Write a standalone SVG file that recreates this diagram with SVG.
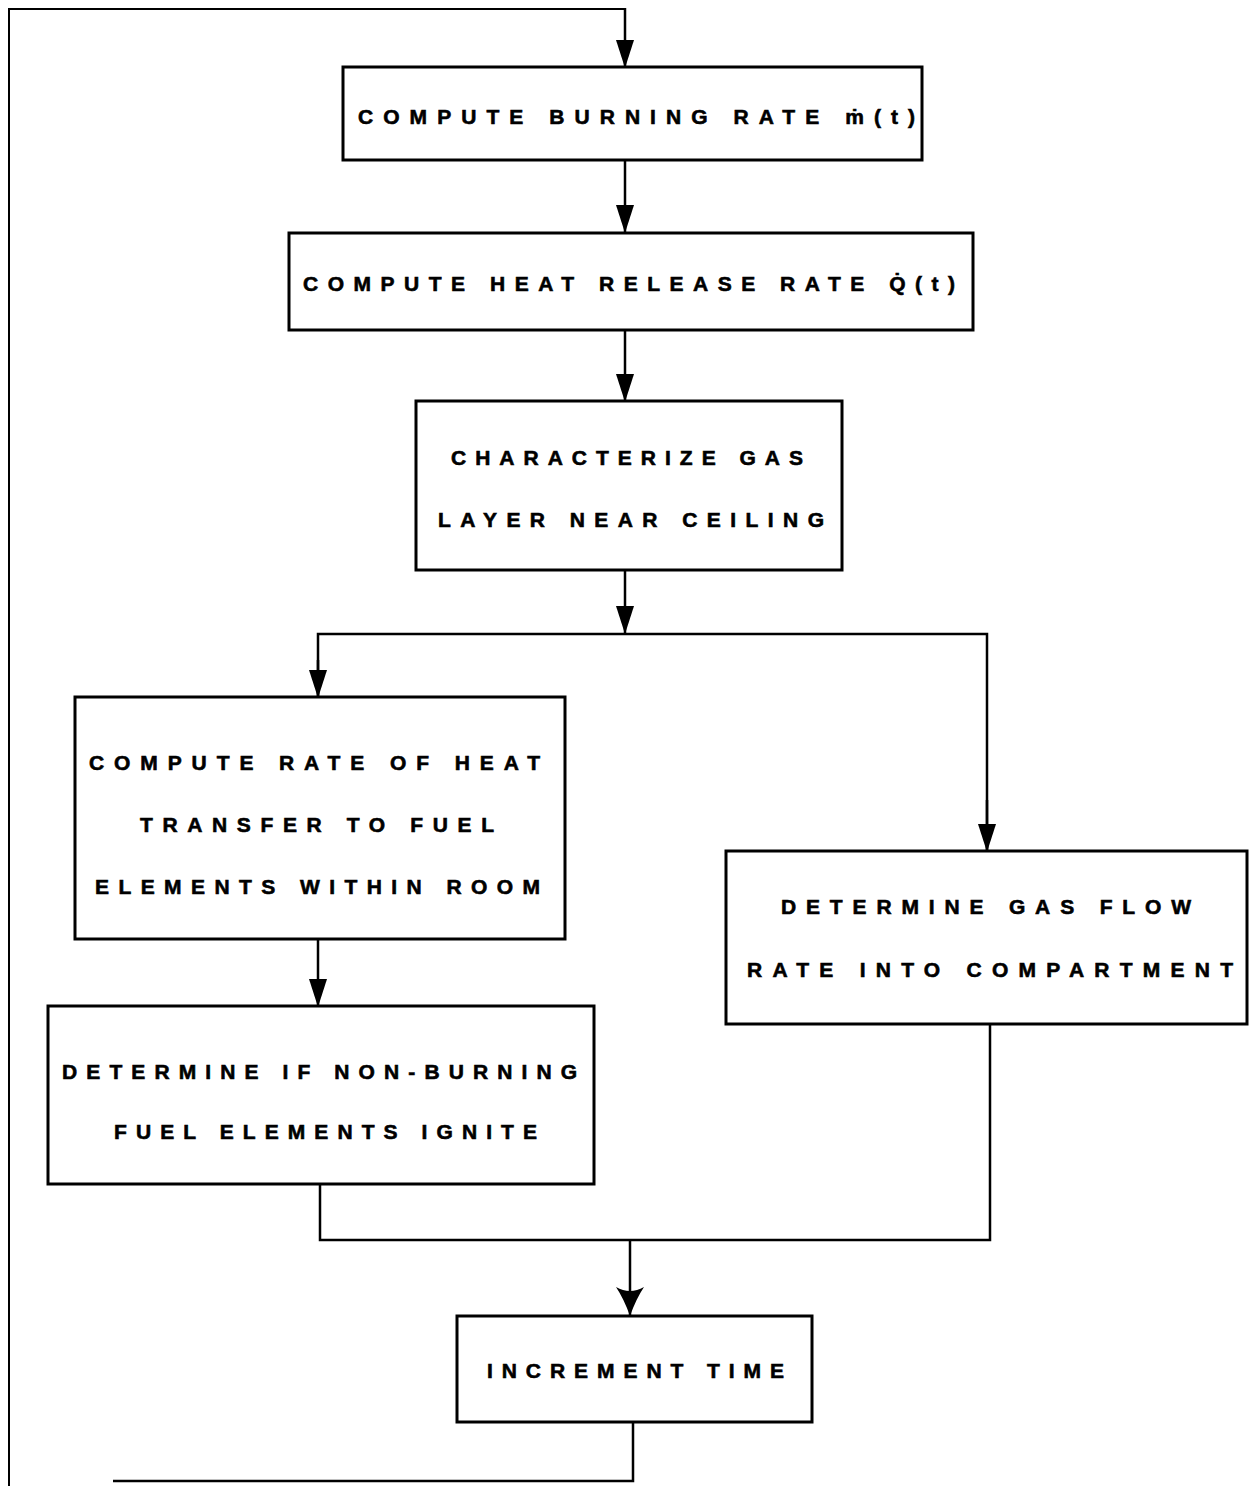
<svg xmlns="http://www.w3.org/2000/svg" width="1249" height="1486" viewBox="0 0 1249 1486">
  <style>
    .box { fill: #fff; stroke: #000; stroke-width: 3; }
    .lbl { font-family: "Liberation Sans", Arial, sans-serif; font-weight: bold; font-size: 21px; fill: #000; stroke: #000; stroke-width: 0.6; }
    .wire { fill: none; stroke: #000; stroke-width: 2.5; stroke-linejoin: miter; }
    .thin { fill: none; stroke: #000; stroke-width: 2; }
  </style>
  <defs>
    <marker id="arrow" markerUnits="userSpaceOnUse" markerWidth="28" markerHeight="20" refX="27" refY="10" orient="auto">
      <path d="M0,1 L28,10 L0,19 Z" fill="#000"/>
    </marker>
    <marker id="arrowWide" markerUnits="userSpaceOnUse" markerWidth="30" markerHeight="30" refX="29" refY="15" orient="auto">
      <path d="M0,1 Q12,9 29,15 Q12,21 0,29 Q8,15 0,1 Z" fill="#000"/>
    </marker>
  </defs>
  <rect width="1249" height="1486" fill="#fff"/>

  <g id="connectors">
    <!-- feedback loop from INCREMENT TIME back to the top -->
    <polyline class="wire" points="633,1422 633,1481 113,1481"/>
    <polyline class="thin" points="9,1486 9,9 625,9"/>
    <line class="wire" x1="625" y1="8" x2="625" y2="67" marker-end="url(#arrow)"/>
    <line class="wire" x1="625" y1="160" x2="625" y2="232" marker-end="url(#arrow)"/>
    <line class="wire" x1="625" y1="330" x2="625" y2="401" marker-end="url(#arrow)"/>
    <line class="wire" x1="625" y1="570" x2="625" y2="633" marker-end="url(#arrow)"/>
    <!-- split into the two branches -->
    <polyline class="wire" points="318,697 318,634 987,634 987,851"/>
    <line class="wire" x1="318" y1="660" x2="318" y2="697" marker-end="url(#arrow)"/>
    <line class="wire" x1="987" y1="800" x2="987" y2="851" marker-end="url(#arrow)"/>
    <line class="wire" x1="318" y1="939" x2="318" y2="1006" marker-end="url(#arrow)"/>
    <!-- merge of the two branches -->
    <polyline class="wire" points="320,1184 320,1240 990,1240 990,1024"/>
    <line class="wire" x1="630" y1="1240" x2="630" y2="1316" marker-end="url(#arrowWide)"/>
  </g>

  <g id="burning-rate">
    <rect class="box" x="343" y="67" width="579" height="93"/>
    <text class="lbl" x="358" y="124" textLength="557" lengthAdjust="spacing">COMPUTE BURNING RATE ṁ(t)</text>
  </g>

  <g id="heat-release">
    <rect class="box" x="289" y="233" width="684" height="97"/>
    <text class="lbl" x="303" y="291" textLength="652" lengthAdjust="spacing">COMPUTE HEAT RELEASE RATE Q̇(t)</text>
  </g>

  <g id="gas-layer">
    <rect class="box" x="416" y="401" width="426" height="169"/>
    <text class="lbl" x="451" y="465" textLength="352" lengthAdjust="spacing">CHARACTERIZE GAS</text>
    <text class="lbl" x="438" y="527" textLength="386" lengthAdjust="spacing">LAYER NEAR CEILING</text>
  </g>

  <g id="heat-transfer">
    <rect class="box" x="75" y="697" width="490" height="242"/>
    <text class="lbl" x="89" y="770" textLength="451" lengthAdjust="spacing">COMPUTE RATE OF HEAT</text>
    <text class="lbl" x="140" y="832" textLength="354" lengthAdjust="spacing">TRANSFER TO FUEL</text>
    <text class="lbl" x="95" y="894" textLength="445" lengthAdjust="spacing">ELEMENTS WITHIN ROOM</text>
  </g>

  <g id="ignition">
    <rect class="box" x="48" y="1006" width="546" height="178"/>
    <text class="lbl" x="62" y="1079" textLength="515" lengthAdjust="spacing">DETERMINE IF NON-BURNING</text>
    <text class="lbl" x="114" y="1139" textLength="423" lengthAdjust="spacing">FUEL ELEMENTS IGNITE</text>
  </g>

  <g id="gas-flow">
    <rect class="box" x="726" y="851" width="521" height="173"/>
    <text class="lbl" x="781" y="914" textLength="410" lengthAdjust="spacing">DETERMINE GAS FLOW</text>
    <text class="lbl" x="747" y="977" textLength="486" lengthAdjust="spacing">RATE INTO COMPARTMENT</text>
  </g>

  <g id="increment-time">
    <rect class="box" x="457" y="1316" width="355" height="106"/>
    <text class="lbl" x="487" y="1378" textLength="297" lengthAdjust="spacing">INCREMENT TIME</text>
  </g>
</svg>
